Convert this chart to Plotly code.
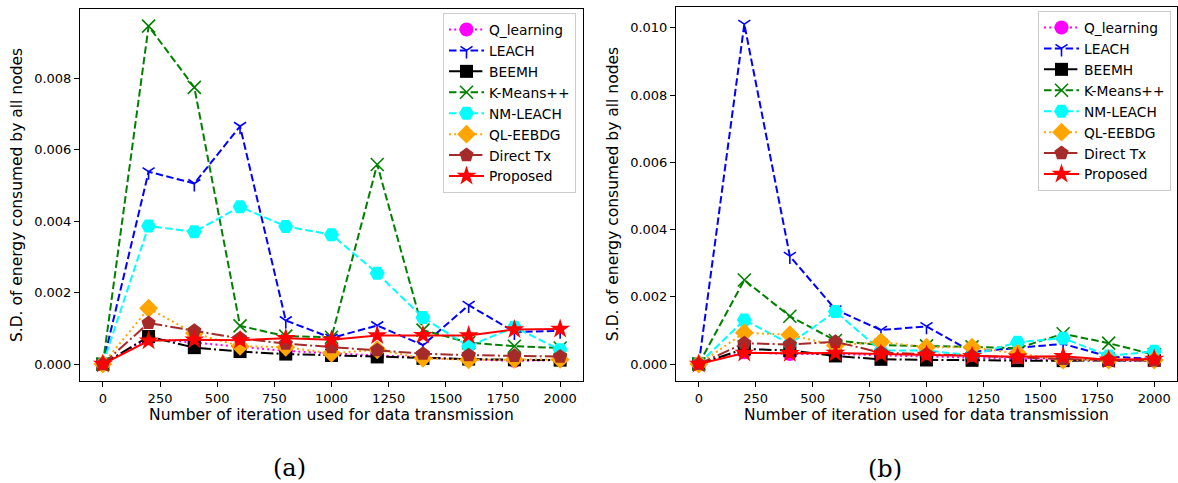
import plotly.graph_objects as go

iterations = [0, 200, 400, 600, 800, 1000, 1200, 1400, 1600, 1800, 2000]
series_names = ["Q_learning", "LEACH", "BEEMH", "K-Means++", "NM-LEACH", "QL-EEBDG", "Direct Tx", "Proposed"]

# (a)
q_learning_a = [0, 0.00072, 0.00060, 0.00048, 0.00037, 0.00030, 0.00024, 0.00019, 0.00013, 0.00009, 0.00011]
leach_a = [0, 0.00538, 0.00505, 0.00665, 0.00122, 0.00073, 0.00108, 0.00053, 0.00165, 0.00090, 0.00093]
beemh_a = [0, 0.00077, 0.00046, 0.00035, 0.00028, 0.00024, 0.00020, 0.00016, 0.00014, 0.00012, 0.00011]
kmeans_a = [0, 0.00945, 0.00774, 0.00107, 0.00078, 0.00075, 0.00558, 0.00095, 0.00060, 0.00050, 0.00045]
nm_leach_a = [0, 0.00386, 0.00370, 0.00440, 0.00385, 0.00362, 0.00254, 0.00130, 0.00050, 0.00103, 0.00040]
ql_eebdg_a = [0, 0.00156, 0.00086, 0.00050, 0.00047, 0.00030, 0.00040, 0.00016, 0.00012, 0.00013, 0.00013]
direct_tx_a = [0, 0.00115, 0.00093, 0.00072, 0.00057, 0.00047, 0.00039, 0.00029, 0.00025, 0.00023, 0.00021]
proposed_a = [0, 0.00065, 0.00068, 0.00067, 0.00072, 0.00068, 0.00080, 0.00081, 0.00080, 0.00097, 0.00098]

# (b)
q_learning_b = [0, 0.00035, 0.00030, 0.00030, 0.00026, 0.00022, 0.00018, 0.00015, 0.00012, 0.00010, 0.00010]
leach_b = [0, 0.01011, 0.00321, 0.00162, 0.00101, 0.00112, 0.00036, 0.00048, 0.00060, 0.00022, 0.00015]
beemh_b = [0, 0.00045, 0.00040, 0.00024, 0.00014, 0.00012, 0.00011, 0.00010, 0.00010, 0.00011, 0.00011]
kmeans_b = [0, 0.00250, 0.00142, 0.00070, 0.00056, 0.00054, 0.00051, 0.00047, 0.00090, 0.00062, 0.00028]
nm_leach_b = [0, 0.00131, 0.00060, 0.00156, 0.00040, 0.00040, 0.00026, 0.00065, 0.00077, 0.00024, 0.00038]
ql_eebdg_b = [0, 0.00093, 0.00087, 0.00055, 0.00066, 0.00050, 0.00050, 0.00032, 0.00012, 0.00012, 0.00012]
direct_tx_b = [0, 0.00062, 0.00058, 0.00066, 0.00034, 0.00029, 0.00024, 0.00018, 0.00015, 0.00012, 0.00011]
proposed_b = [0, 0.00033, 0.00032, 0.00033, 0.00030, 0.00027, 0.00023, 0.00022, 0.00023, 0.00013, 0.00015]

y_ticks_a = [0, 0.002, 0.004, 0.006, 0.008]
y_ticks_b = [0, 0.002, 0.004, 0.006, 0.008, 0.010]
x_ticks = [0, 250, 500, 750, 1000, 1250, 1500, 1750, 2000]

W, H = 1178, 483
FONT = "DejaVu Sans"

styles = [
    dict(color="#ff00ff", dash="2px,3.2px", symbol="circle", size=14, lw=0),
    dict(color="#0000ff", dash="7.5px,3.3px", symbol="y-down", size=10, lw=1.6),
    dict(color="#000000", dash="12.5px,3.2px,2px,3.2px", symbol="square", size=13, lw=0),
    dict(color="#008000", dash="7.5px,3.3px", symbol="x-thin", size=13, lw=1.6),
    dict(color="#00ffff", dash="7.5px,3.3px", symbol="hexagon2", size=15, lw=0),
    dict(color="#ffa500", dash="2px,3.2px", symbol="diamond", size=14.5, lw=0),
    dict(color="#a52a2a", dash="12.5px,3.2px,2px,3.2px", symbol="pentagon", size=15, lw=0),
    dict(color="#ff0000", dash="solid", symbol="star", size=15, lw=0),
]

data_a = [q_learning_a, leach_a, beemh_a, kmeans_a, nm_leach_a, ql_eebdg_a, direct_tx_a, proposed_a]
data_b = [q_learning_b, leach_b, beemh_b, kmeans_b, nm_leach_b, ql_eebdg_b, direct_tx_b, proposed_b]

fig = go.Figure()

def add_series(vals, name, st, xa, ya, legend):
    marker = dict(symbol=st["symbol"], size=st["size"], color=st["color"],
                  line=dict(width=st["lw"], color=st["color"]))
    fig.add_trace(go.Scatter(
        x=iterations, y=vals, name=name, mode="lines+markers",
        line=dict(color=st["color"], width=2, dash=st["dash"]),
        marker=marker, xaxis=xa, yaxis=ya, legend=legend))

for vals, name, st in zip(data_a, series_names, styles):
    add_series(vals, name, st, "x", "y", "legend")
for vals, name, st in zip(data_b, series_names, styles):
    add_series(vals, name, st, "x2", "y2", "legend2")

def px_x(p):
    return p / W

def px_y(p):
    return 1 - p / H

axis_common = dict(showline=True, linecolor="black", linewidth=1, mirror=True,
                   ticks="outside", ticklen=5, tickwidth=1, tickcolor="black",
                   showgrid=False, zeroline=False,
                   tickfont=dict(family=FONT, size=13, color="black"))

xtitle = dict(text="Number of iteration used for data transmission",
              font=dict(family=FONT, size=15.5, color="black"), standoff=3)
ytitle = dict(text="S.D. of energy consumed by all nodes",
              font=dict(family=FONT, size=15.5, color="black"), standoff=7)

legend_common = dict(xanchor="right", yanchor="top",
                     bgcolor="rgba(255,255,255,0.8)", bordercolor="#cccccc", borderwidth=1,
                     font=dict(family=FONT, size=13.8, color="black"), itemwidth=35,
                     tracegroupgap=0)

fig.update_layout(
    width=W, height=H,
    margin=dict(l=0, r=0, t=0, b=0),
    paper_bgcolor="white", plot_bgcolor="white",
    font=dict(family=FONT, size=13, color="black"),
    xaxis=dict(domain=[px_x(80), px_x(583)], range=[-100, 2100], tickvals=x_ticks,
               anchor="y", title=xtitle, **axis_common),
    yaxis=dict(domain=[px_y(381), px_y(9)], range=[-0.000473, 0.00993], tickvals=y_ticks_a,
               tickformat=".3f", anchor="x", title=ytitle, **axis_common),
    xaxis2=dict(domain=[px_x(676), px_x(1177)], range=[-100, 2100], tickvals=x_ticks,
                anchor="y2", title=xtitle, **axis_common),
    yaxis2=dict(domain=[px_y(381), px_y(7)], range=[-0.000505, 0.01062], tickvals=y_ticks_b,
                tickformat=".3f", anchor="x2", title=ytitle, **axis_common),
    legend=dict(x=px_x(576), y=px_y(13), **legend_common),
    legend2=dict(x=px_x(1171), y=px_y(11), **legend_common),
    showlegend=True,
)

fig.add_annotation(text="(a)", x=px_x(289), y=px_y(468), xref="paper", yref="paper",
                   showarrow=False, xanchor="center", yanchor="middle",
                   font=dict(family="DejaVu Serif", size=24, color="black"))
fig.add_annotation(text="(b)", x=px_x(885), y=px_y(469), xref="paper", yref="paper",
                   showarrow=False, xanchor="center", yanchor="middle",
                   font=dict(family="DejaVu Serif", size=24, color="black"))

fig.write_html("out.html")
